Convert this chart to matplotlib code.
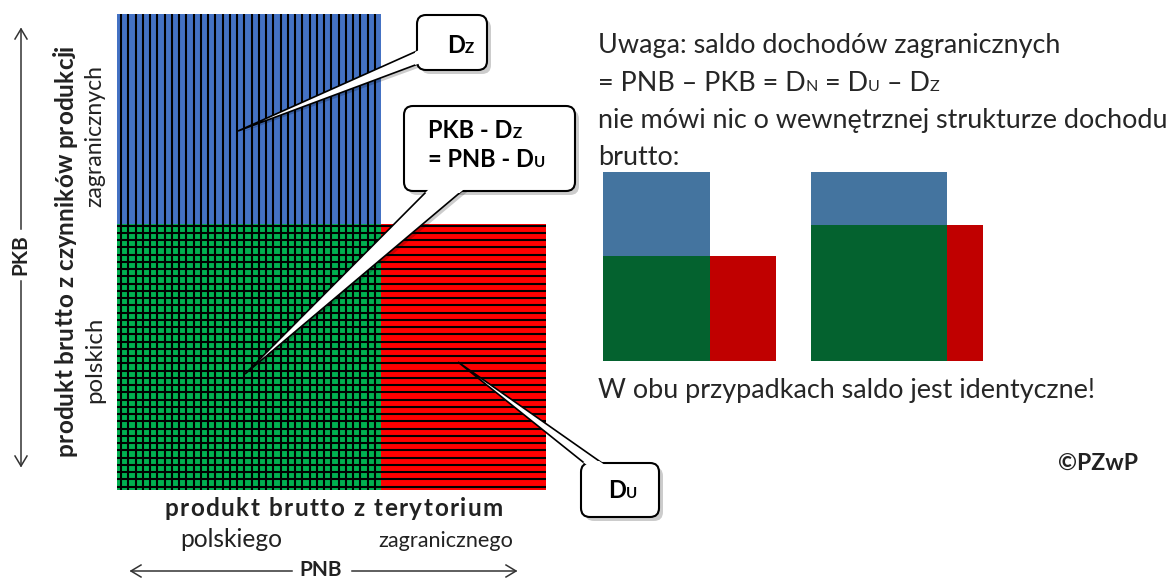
import numpy as np
import matplotlib
matplotlib.use("Agg")
import matplotlib.pyplot as plt
from matplotlib.patches import FancyBboxPatch, Polygon

FONT = ['Lato', 'DejaVu Sans']
plt.rcParams['font.family'] = FONT

# ---------------- data ----------------
territory_labels = ["polskiego", "zagranicznego"]     # PNB split by territory
territory_widths = [264, 165]
factor_labels = ["polskich", "zagranicznych"]         # PKB split by factor origin
factor_heights = [266, 210]
main_colors = ["#00B050", "#4472C4", "#FF0000"]        # green, blue, red

case_dom_widths = [107, 136]
case_for_widths = [66, 36]
case_dom_heights = [105, 136]
case_for_heights = [84, 53]
case_colors = ["#04622F", "#44749F", "#C00000"]

x_title = "produkt brutto z terytorium"
y_title = "produkt brutto z czynników produkcji"
note_line1 = "Uwaga: saldo dochodów zagranicznych"
note_line2 = [("= PNB – PKB = D", 1.0), ("N", 0.6), (" = D", 1.0), ("U", 0.6), (" – D", 1.0), ("Z", 0.6)]
note_line3 = "nie mówi nic o wewnętrznej strukturze dochodu"
note_line4 = "brutto:"
conclusion = "W obu przypadkach saldo jest identyczne!"
copyright_text = "©PZwP"

# ---------------- figure ----------------
W, H = 1176, 583
fig = plt.figure(figsize=(W / 100, H / 100), dpi=100)


def px_axes(x0, y0, x1, y1, z=1):
    ax = fig.add_axes([x0 / W, 1 - y1 / H, (x1 - x0) / W, (y1 - y0) / H], zorder=z)
    ax.set_axis_off()
    return ax


# main diagram
ax_main = px_axes(117, 14, 546, 490)
wp, wz = territory_widths
hp, hz = factor_heights
g, b, r = main_colors
ax_main.bar(0, hp, width=wp, align='edge', color=g, lw=0)
ax_main.bar(0, hz, width=wp, bottom=hp, align='edge', color=b, lw=0)
ax_main.bar(wp, hp, width=wz, align='edge', color=r, lw=0)
step = 7.25
ax_main.vlines(np.arange(4, wp, step), 0, hp + hz, color='black', lw=1.5)
ax_main.hlines(np.arange(3.5, hp - 1, step), 0, wp + wz, color='black', lw=1.5)
ax_main.set_xlim(0, wp + wz)
ax_main.set_ylim(0, hp + hz)

# small comparison diagrams
ax_small = px_axes(603, 172, 983, 361)
gap = 35
x = 0
for dw, fw, dh, fh in zip(case_dom_widths, case_for_widths, case_dom_heights, case_for_heights):
    ax_small.bar(x, dh, width=dw, align='edge', color=case_colors[0], lw=0)
    ax_small.bar(x, fh, width=dw, bottom=dh, align='edge', color=case_colors[1], lw=0)
    ax_small.bar(x + dw, dh, width=fw, align='edge', color=case_colors[2], lw=0)
    x += dw + fw + gap
ax_small.set_xlim(0, x - gap)
ax_small.set_ylim(0, max(d + f for d, f in zip(case_dom_heights, case_for_heights)))

# overlay (pixel coordinates)
ax0 = px_axes(0, 0, W, H, z=5)
ax0.set_xlim(0, W)
ax0.set_ylim(H, 0)
fig.canvas.draw()
R = fig.canvas.get_renderer()


def ext(s, size, weight='normal', rot=0):
    t = ax0.text(0, 0, s, fontsize=size, fontweight=weight, rotation=rot)
    e = t.get_window_extent(R)
    t.remove()
    return e


def adv(s, size, weight='normal'):
    return ext("x" + s + "x", size, weight).width - ext("xx", size, weight).width


def fit(s, target, weight='normal'):
    return 20 * target / ext(s, 20, weight).width


def runs(x, y, parts, size, weight='normal', color='#222222', z=8):
    cx = x
    for s, sc in parts:
        fs = size * sc
        st = s.strip()
        lead = len(s) - len(s.lstrip())
        if lead:
            cx += adv(s[:lead], fs, weight)
        ax0.text(cx, y, st, fontsize=fs, fontweight=weight, va='baseline', ha='left',
                 color=color, zorder=z)
        cx += adv(st, fs, weight)
    return cx


def spaced(s, start, end, base, size, weight='bold', vertical=False, color='#222222'):
    """letter-spaced text between start and end (x for horizontal, y for vertical)."""
    advs = [adv(c, size, weight) for c in s]
    length = abs(end - start)
    track = (length - sum(advs)) / (len(s) - 1)
    pos = start
    sgn = -1 if vertical else 1
    for c, a in zip(s, advs):
        if vertical:
            ax0.text(base, pos, c, fontsize=size, fontweight=weight, rotation=90,
                     rotation_mode='anchor', ha='left', va='baseline', color=color)
        else:
            ax0.text(pos, base, c, fontsize=size, fontweight=weight, ha='left',
                     va='baseline', color=color)
        pos += sgn * (a + track)


# right-hand note
fs_note = fit(note_line3, 572)
txtc = '#262626'
ax0.text(598, 53, note_line1, fontsize=fs_note, va='baseline', color=txtc)
runs(598, 91, note_line2, fs_note, color=txtc)
ax0.text(598, 128, note_line3, fontsize=fs_note, va='baseline', color=txtc)
ax0.text(598, 165, note_line4, fontsize=fs_note, va='baseline', color=txtc)
ax0.text(598, 398, conclusion, fontsize=fs_note, va='baseline', color=txtc)
ax0.text(1058, 470, copyright_text, fontsize=fit(copyright_text, 80, 'bold'),
         fontweight='bold', va='baseline', color='#222222')

# axis-like labels of main diagram
lab = '#222222'
spaced(x_title, 164, 503, 516, 17.5, 'bold')
ax0.text(231, 547, territory_labels[0], fontsize=fit(territory_labels[0], 102), ha='center',
         va='baseline', color=lab)
ax0.text(446, 547, territory_labels[1], fontsize=fit(territory_labels[1], 135), ha='center',
         va='baseline', color=lab)
spaced(y_title, 456, 45, 73, 17.5, 'bold', vertical=True)
ax0.text(95, 136, factor_labels[1], fontsize=fit(factor_labels[1], 142), rotation=90,
         ha='center', va='center', color=lab)
ax0.text(95, 360, factor_labels[0], fontsize=fit(factor_labels[0], 86), rotation=90,
         ha='center', va='center', color=lab)

# PNB / PKB double arrows
fs_arr = 15
lc = '#333333'
alw = 1.1
ax0.text(321, 570, "PNB", fontsize=fs_arr, fontweight='bold', ha='center', va='center', color=lab)
ax0.plot([131, 292], [571, 571], color=lc, lw=alw)
ax0.plot([352, 516], [571, 571], color=lc, lw=alw)
ax0.plot([141, 131, 141], [565, 571, 577], color=lc, lw=alw)
ax0.plot([506, 516, 506], [565, 571, 577], color=lc, lw=alw)

ax0.text(20, 255, "PKB", fontsize=fs_arr, fontweight='bold', rotation=90, ha='center',
         va='center', color=lab)
ax0.plot([21, 21], [29, 229], color=lc, lw=alw)
ax0.plot([21, 21], [281, 466], color=lc, lw=alw)
ax0.plot([15, 21, 27], [39, 29, 39], color=lc, lw=alw)
ax0.plot([15, 21, 27], [456, 466, 456], color=lc, lw=alw)


# callouts
def callout(x0, y0, x1, y1, b1, b2, tip):
    style = "round,pad=0,rounding_size=9"
    sh = 4
    ax0.add_patch(FancyBboxPatch((x0 + sh, y0 + sh), x1 - x0, y1 - y0, boxstyle=style,
                                 fc='black', ec='none', alpha=0.2, zorder=3))
    ax0.add_patch(Polygon([(b1[0] + 3, b1[1] + 3), (b2[0] + 3, b2[1] + 3), (tip[0] + 2, tip[1] + 2)],
                          fc='black', ec='none', alpha=0.2, zorder=3))
    ax0.add_patch(Polygon([b1, b2, tip], fc='white', ec='black', lw=1.2, zorder=4))
    box = FancyBboxPatch((x0, y0), x1 - x0, y1 - y0, boxstyle=style, fc='white', ec='black',
                         lw=1.5, zorder=5)
    ax0.add_patch(box)
    clip = FancyBboxPatch((x0 - 2, y0 - 2), x1 - x0 + 4, y1 - y0 + 4, boxstyle=style,
                          transform=ax0.transData)
    cover = Polygon([b1, b2, tip], fc='white', ec='none', zorder=6)
    ax0.add_patch(cover)
    cover.set_clip_path(clip)


callout(417, 15, 487, 70, (426, 47), (426, 61), (238, 131))
callout(404, 106, 575, 191, (433, 185), (469, 185), (245, 374))
callout(581, 463, 659, 517, (593, 470), (612, 470), (458, 362))

fs_call = 17
runs(447, 53, [("D", 1.0), ("Z", 0.64)], fs_call, weight='bold', color='black')
runs(428, 138, [("PKB - D", 1.0), ("Z", 0.64)], fs_call, weight='bold', color='black')
runs(428, 167, [("= PNB - D", 1.0), ("U", 0.64)], fs_call, weight='bold', color='black')
runs(608, 498, [("D", 1.0), ("U", 0.64)], fs_call, weight='bold', color='black')

fig.savefig("out.png", dpi=100)
